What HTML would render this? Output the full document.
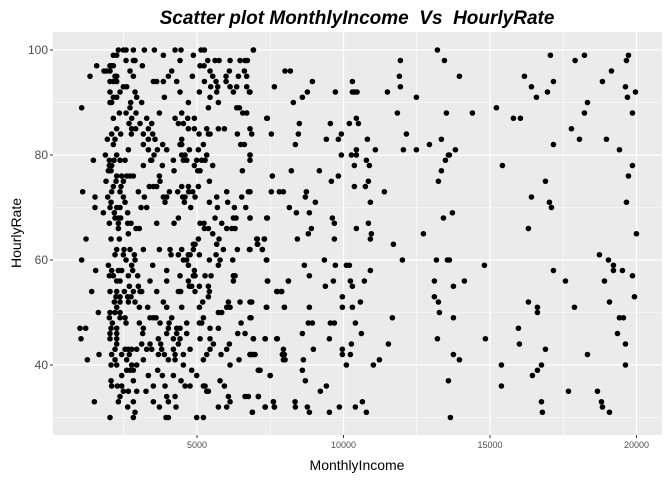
<!DOCTYPE html>
<html><head><meta charset="utf-8"><style>
html,body{margin:0;padding:0;background:#fff;}
svg{display:block;font-family:"Liberation Sans",Arial,sans-serif;}
</style></head><body>
<svg id="chart" width="672" height="480" viewBox="0 0 672 480" xmlns="http://www.w3.org/2000/svg">
<text x="357" y="24" text-anchor="middle" font-size="19" font-weight="bold" font-style="italic" fill="#000">Scatter plot MonthlyIncome&#160; Vs&#160; HourlyRate</text>
<rect x="53" y="32" width="609" height="403" fill="#ebebeb"/>
<g id="grid"></g>
<g id="ticks"></g>
<g id="points"></g>
<text x="357" y="470" text-anchor="middle" font-size="14" fill="#000">MonthlyIncome</text>
<text transform="translate(21,233) rotate(-90)" text-anchor="middle" font-size="14" fill="#000">HourlyRate</text>
</svg>
<script>
const xTicks = [5000, 10000, 15000, 20000];
const xMinor = [2500, 7500, 12500, 17500];
const yTicks = [40, 60, 80, 100];
const yMinor = [30, 50, 70, 90];
const rowRates = [100,99,98,97,96,95,94,93,92,91,90,89,88,87,86,85,84,83,82,81,80,79,78,77,76,75,74,73,72,71,70,69,68,67,66,65,64,63,62,61,60,59,58,57,56,55,54,53,52,51,50,49,48,47,46,45,44,43,42,41,40,39,38,37,36,35,34,33,32,31,30];
const rowIncomes = [
[2316,2487,2578,2828,3204,3545,4251,4455,5138,5252,6925],
[2145,2259,3852,4876],
[2578,2828,2885,4421,5366,5616,5753,6128,6469,6640,6720],
[1576,2145,3135,5104,5240,2031,2088],
[1826,1917,2031,2714,4137,5445,6105,6617],
[1349,2202,2259,2828,4023,4842,5536,5992,6413,6697],
[2031,2145,2259,3511,3625,3852,4307,5252,5992,5650],
[2487,2600,5468,5707,6128,6355,6697],
[2031,2373,2885,4421,5081,5673,6242,6788],
[2145,2259,2942,3886,5445],
[2031,2088,2737,3112,4706,5730],
[1064,2714,5389,6356,6447],
[2350,2578,2919,3716,4478,6561,6697],
[2145,2771,3283,4251,4683,4911,7380],
[2680,3056,3454,4364,4535],
[2259,2771,2908,3340,4706,4911,5332,5730,5935],
[2088,2396,2760,3169,3488,5070,5389,5445,6378,6868],
[1940,2202,3340,3568,4478],
[2145,3169,3829,4421,4478,5218,6492,6617],
[2657,3340,3647,3966,4740,5047],
[1872,2259,3534,4478,4592,5332,6811],
[1463,2009,2168,2373,2544,3420,3454,4194,4535,4649,4990,5161,5275],
[2009,2088,3169,3818,4911,5536],
[1975,2066,4216,5024,5104,6549],
[2259,2430,2600,2714,2828,3716],
[1895,2236,2487,3738,5423],
[2145,2407,3374,3511,3625,4478,4706,5047],
[1098,2088,2373,2999,4057,4342,4717,4854,6014,6754],
[1519,1952,2487,3204,3852,3966,4512,4592,4933,5673,6527],
[2066,2544,3909,4569,5423,6048],
[1519,2031,2259,2373,3090,3283,4785,5696,6276,6663],
[1804,2179,2634],
[2202,2316,2396,4364,5616,6242,6333,6811,7380],
[2009,2316,2634,2748,3625,4216,5104,5240,5844],
[2316,2919,3033,5252,5389,6014,6185,6299],
[2657,5536],
[1212,2066,2350,5047,5753,7039,7300],
[4876,4933,5673,7073],
[2259,2510,2714,3169,3716,4080,4478,4876,5900,6378,6788,7232],
[2202,2487,2862,4114,4364,4706,4763,5081,5650],
[1064,2578,2885,4535,4649,5423,5787,6219,7380],
[1975,2771,3488,4706,5730],
[1542,2088,2316,2430,2805,3966,4911],
[2009,2145,2657,2976,4421,4876,4933,5275,5480,6242,6299],
[2259,2373,3396,3966,4706,6242,7414,8120],
[2691,2999,4740,4819,5081,5389],
[1406,2031,2259,2521,2828,3056,3112,3625,4364,4444,4933,5423,7721,7892],
[2236,2373,2634,2748,5389],
[2179,2373,2657,2885,3852,5195,6071,6469,6868],
[2259,3033,3317,3966,4478,5081,6014,6128,7380,7983],
[1633,2031,2202,2373,5730,5844],
[2009,2373,2544,3396,3511,3602,4137,5218,6845],
[2111,2578,3033,3738,4046,4649,5081,5161,6504],
[1007,1201,2066,2259,3169,4023,4307,4421,5445,5730],
[2031,2259,3147,3966,4307,4649,6390,6640],
[1041,2031,2259,3681,4194,4421,5104,5445,6925,7323,7721],
[2259,3112,3396,3761,4364,5559,6105],
[2202,2544,2657,2771,2942,3283,3454,3795,4194,4763,5445,6014,7949],
[1656,2088,2430,2691,3681,3886,4251,4535,5332,5821,6811,6868,6982],
[1258,2202,2600,3169,4023,4251,5218,6435,7949,8006],
[2066,2259,2771,2942,4535,6128],
[2600,2714,2828,3659,4819,7096,7153],
[2430,3340,3818,4194,4990,7494],
[2066,2828,4455,5787],
[2088,2282,2430,3511,3909,4592,4763,5218,5275,5935],
[2487,2657,2942,3260,5332,5389],
[2373,3966,4251,6071,6640,6754,7096],
[1497,2316,2828,3511,4023,6128,7608,8347],
[2634,3716,4285,5730,6014,7323,7642],
[2885,6891],
[2031,2828,3943,4023,4989,5218]
];
const extraIncome = [6923,8004,8186,7640,8937,10303,6809,8596,8766,9722,10303,10382,10462,8288,11498,11907,11941,11941,12488,13205,13444,13956,11839,13512,14400,15219,15799,16038,16175,16414,16585,16960,17062,17165,17905,18223,18326,18223,17779,18053,18838,19145,18974,19418,19623,19657,19725,19691,19964,19862,17165,6809,7401,7537,8493,8459,8357,9552,9415,9825,9927,10200,10439,10508,10815,11088,9927,10269,10439,10439,6809,6809,12044,12488,12932,13341,13819,13614,13580,13478,13341,13239,12146,10781,10883,10371,8220,9176,7571,9825,9586,6809,7537,7810,7947,8732,8698,9039,10371,10747,10849,10917,11395,15424,16892,16414,17028,17097,19862,19725,19657,8152,8391,8835,6809,7401,9620,9688,8903,8800,8425,9688,7059,7298,7059,7230,6809,10849,10439,10951,10917,11702,12727,13410,13717,16311,19998,7367,8664,9347,9722,10098,10200,8835,9381,9654,10235,10303,10712,10917,8118,7401,7742,7879,12010,13171,13546,13614,14809,13102,13751,14126,13102,13239,13273,13751,18735,19042,19213,19213,19520,17165,17575,18906,19862,19930,19077,17882,16311,16619,16619,6809,7367,7981,8835,9961,9961,10303,10576,6809,8800,8937,9552,9688,10405,11668,8596,10610,6923,7332,7742,9518,8971,9961,10269,11532,6809,6923,7913,7981,9961,10235,8630,10098,11020,11225,7094,7128,7503,8596,8698,13205,14843,13751,13956,13580,19418,19554,19350,19623,18326,19623,15970,16004,16892,15390,15390,16756,16619,16448,17677,18667,18804,18838,19077,16756,16789,13648,9210,9415,7094,7606,7640,7332,8357,8766,8835,9518,9859,10405,10644,10781,6889];
const extraRate = [100,96,96,93,94,94,92,91,92,92,92,92,92,90,92,95,98,93,91,100,98,95,88,88,88,89,87,87,95,93,91,92,99,94,98,99,90,88,85,83,94,96,83,81,93,98,99,91,92,88,82,85,87,84,86,84,82,86,83,83,84,86,87,86,83,81,80,80,80,81,80,79,81,81,82,83,81,80,80,79,77,75,84,79,78,78,77,77,76,76,75,73,73,73,73,73,72,71,74,74,75,71,73,78,75,72,71,70,78,76,71,70,69,69,68,68,68,67,66,65,64,64,64,64,63,62,62,67,66,65,64,63,65,68,69,66,65,60,59,60,59,59,59,57,55,56,56,55,56,58,56,56,54,54,60,60,60,60,59,56,55,56,53,52,50,49,61,60,59,58,58,58,56,56,57,53,52,51,52,51,50,52,51,51,51,53,51,51,52,49,48,48,48,48,48,49,46,46,45,45,45,45,43,43,44,44,42,42,42,42,42,42,41,40,40,41,39,39,38,39,37,45,45,42,41,37,49,49,46,44,42,40,47,44,43,40,36,40,39,38,35,35,33,32,31,33,31,30,35,36,34,33,32,32,32,32,31,31,32,32,33,31,31];

const NS = "http://www.w3.org/2000/svg";
const P = {l:53, r:662, t:32, b:435};
function xs(v){ return 50.5 + v * 146.5 / 5000; }
function ys(v){ return 50 + (100 - v) * 5.25; }
function mk(tag, attrs, parent){ const e=document.createElementNS(NS,tag); for(const k in attrs) e.setAttribute(k, attrs[k]); parent.appendChild(e); return e; }

const grid = document.getElementById('grid');
const ticks = document.getElementById('ticks');
const pts = document.getElementById('points');

xMinor.forEach(v => {
  const l = mk('line', {x1:xs(v), x2:xs(v), y1:P.t, y2:P.b, stroke:'#fff', 'stroke-width':0.6}, grid);
  
  
});
yMinor.forEach(v => {
  const l = mk('line', {x1:P.l, x2:P.r, y1:ys(v), y2:ys(v), stroke:'#fff', 'stroke-width':0.6}, grid);
  
  
});
xTicks.forEach(v => {
  const l = mk('line', {x1:xs(v), x2:xs(v), y1:P.t, y2:P.b, stroke:'#fff', 'stroke-width':1.2}, grid);
  
  
  const t = mk('line', {x1:xs(v), x2:xs(v), y1:P.b, y2:P.b+3, stroke:'#333', 'stroke-width':1}, ticks);
  
  
  const tx = mk('text', {x:xs(v), y:P.b+13, 'text-anchor':'middle', 'font-size':9, fill:'#4d4d4d'}, ticks);
  tx.textContent = v;
  
  
});
yTicks.forEach(v => {
  const l = mk('line', {x1:P.l, x2:P.r, y1:ys(v), y2:ys(v), stroke:'#fff', 'stroke-width':1.2}, grid);
  
  
  const t = mk('line', {x1:P.l-3, x2:P.l, y1:ys(v), y2:ys(v), stroke:'#333', 'stroke-width':1}, ticks);
  
  
  const tx = mk('text', {x:P.l-5, y:ys(v)+4, 'text-anchor':'end', 'font-size':12, fill:'#4d4d4d'}, ticks);
  tx.textContent = v;
  
  
});

rowRates.forEach((r, i) => {
  rowIncomes[i].forEach(inc => {
    const c = mk('circle', {cx:xs(inc), cy:ys(r), r:2.8, fill:'#000'}, pts);
    
    
  });
});
extraIncome.forEach((inc, i) => {
  const c = mk('circle', {cx:xs(inc), cy:ys(extraRate[i]), r:2.8, fill:'#000'}, pts);
  
  
});
</script>
</body></html>
